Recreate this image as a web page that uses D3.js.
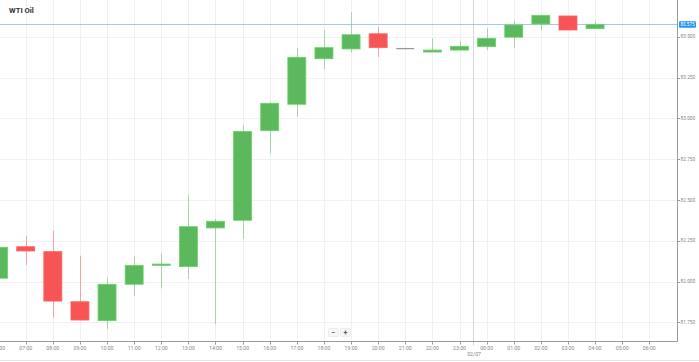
<!DOCTYPE html>
<html lang="en">
<head>
<meta charset="utf-8">
<title>WTI Oil</title>
<script src="https://cdn.jsdelivr.net/npm/d3@7"></script>
<style>
  html, body { margin: 0; padding: 0; background: #fff; }
  svg { display: block; font-family: Roboto, "Open Sans", sans-serif; }
</style>
</head>
<body>
<div id="chart"></div>
<script>
  // hourly candles, 06:00 on 02/06 through 04:00 on 02/07
  const hours = ["06:00","07:00","08:00","09:00","10:00","11:00","12:00","13:00","14:00","15:00","16:00","17:00",
                 "18:00","19:00","20:00","21:00","22:00","23:00","00:00","01:00","02:00","03:00","04:00"];
  const openVals  = [82.020,82.213,82.183,81.876,81.760,81.983,82.100,82.091,82.328,82.375,82.924,83.086,
                     83.365,83.425,83.518,83.431,83.406,83.418,83.439,83.497,83.578,83.627,83.549];
  const highVals  = [82.215,82.279,82.311,82.158,82.023,82.152,82.173,82.528,82.383,82.959,83.102,83.429,
                     83.541,83.651,83.561,83.431,83.490,83.472,83.551,83.598,83.631,83.627,83.594];
  const lowVals   = [82.015,82.101,81.778,81.764,81.709,81.911,81.958,82.015,81.738,82.260,82.786,83.010,
                     83.302,83.404,83.377,83.431,83.406,83.418,83.418,83.433,83.541,83.541,83.549];
  const closeVals = [82.210,82.187,81.880,81.764,81.983,82.099,82.107,82.336,82.369,82.920,83.092,83.374,
                     83.433,83.512,83.433,83.431,83.418,83.441,83.490,83.572,83.631,83.541,83.575];
  const yTicks = [81.75, 82.0, 82.25, 82.5, 82.75, 83.0, 83.25, 83.5];
  const lastPrice = 83.575;
  const title = "WTI Oil";
  const dateLabel = "02/07";

  const width = 699, height = 362;
  const plotRight = 677, plotBottom = 341.5;

  const start = new Date(2020, 1, 6, 6, 0);
  const times = hours.map((h, i) => new Date(start.getTime() + i * 3600e3));
  const data = times.map((t, i) => ({
    t, o: openVals[i], h: highVals[i], l: lowVals[i], c: closeVals[i]
  }));

  const x = d3.scaleTime()
      .domain([start, new Date(2020, 1, 7, 6, 0)])
      .range([-1.4, 649.3]);
  const y = d3.scaleLinear()
      .domain([81.75, 83.5])
      .range([322.3, 36.7]);

  const tickTimes = d3.range(25).map(i => new Date(start.getTime() + i * 3600e3))
      .filter(t => x(t) <= plotRight);

  const svg = d3.select("#chart").append("svg")
      .attr("width", width).attr("height", height);

  svg.append("defs").append("clipPath").attr("id", "plot")
    .append("rect").attr("x", 0).attr("y", 0).attr("width", plotRight).attr("height", plotBottom);

  // grid
  const grid = svg.append("g").attr("stroke", "#f1f1f1").attr("stroke-width", 1);
  grid.selectAll("line.v").data(tickTimes).join("line")
      .attr("x1", d => Math.round(x(d)) + 0.5).attr("x2", d => Math.round(x(d)) + 0.5)
      .attr("y1", 0).attr("y2", plotBottom);
  grid.selectAll("line.h").data(yTicks).join("line")
      .attr("x1", 0).attr("x2", plotRight)
      .attr("y1", d => Math.round(y(d)) + 0.5).attr("y2", d => Math.round(y(d)) + 0.5);

  // day divider
  const midnight = new Date(2020, 1, 6, 23, 30);
  svg.append("line")
      .attr("x1", Math.round(x(midnight)) + 0.5).attr("x2", Math.round(x(midnight)) + 0.5)
      .attr("y1", 0).attr("y2", plotBottom + 4)
      .attr("stroke", "#d8d8d8");

  // last price line
  svg.append("line")
      .attr("x1", 0).attr("x2", plotRight)
      .attr("y1", y(lastPrice)).attr("y2", y(lastPrice))
      .attr("stroke", "#9cc9ee").attr("stroke-width", 1);

  // candles
  const green = "#5cb85c", red = "#f75555", gray = "#999";
  const colorOf = d => d.c > d.o ? green : d.c < d.o ? red : gray;
  const bodyW = 18;
  const candles = svg.append("g").attr("clip-path", "url(#plot)")
    .selectAll("g").data(data).join("g");

  candles.filter(d => d.h > d.l).append("line")
      .attr("x1", d => Math.round(x(d.t)) + 0.5).attr("x2", d => Math.round(x(d.t)) + 0.5)
      .attr("y1", d => y(d.h)).attr("y2", d => y(d.l))
      .attr("stroke", colorOf).attr("stroke-opacity", 0.5);

  candles.append("rect")
      .attr("x", d => x(d.t) - bodyW / 2)
      .attr("width", bodyW)
      .attr("y", d => y(Math.max(d.o, d.c)))
      .attr("height", d => Math.max(1.3, Math.abs(y(d.o) - y(d.c))))
      .attr("fill", colorOf)
      .attr("stroke", d => d.c === d.o ? "none" : d3.color(colorOf(d)).brighter(0.4))
      .attr("stroke-width", 0.8);

  // axes
  const axisColor = "#999";
  svg.append("line")
      .attr("x1", plotRight + 0.5).attr("x2", plotRight + 0.5)
      .attr("y1", 0).attr("y2", plotBottom)
      .attr("stroke", axisColor);
  svg.append("line")
      .attr("x1", 0).attr("x2", plotRight + 0.5)
      .attr("y1", plotBottom).attr("y2", plotBottom)
      .attr("stroke", axisColor);

  const yAxis = svg.append("g");
  yAxis.selectAll("line").data(yTicks).join("line")
      .attr("x1", plotRight).attr("x2", plotRight + 3)
      .attr("y1", d => Math.round(y(d)) + 0.5).attr("y2", d => Math.round(y(d)) + 0.5)
      .attr("stroke", axisColor);
  yAxis.selectAll("text").data(yTicks).join("text")
      .attr("x", plotRight + 3.5).attr("y", d => y(d)).attr("dy", "0.35em")
      .attr("font-size", 4.8).attr("fill", "#888")
      .text(d => d3.format(".3f")(d));

  const xAxis = svg.append("g");
  xAxis.selectAll("line").data(tickTimes).join("line")
      .attr("x1", d => Math.round(x(d)) + 0.5).attr("x2", d => Math.round(x(d)) + 0.5)
      .attr("y1", plotBottom).attr("y2", plotBottom + 3)
      .attr("stroke", axisColor);
  xAxis.selectAll("text").data(tickTimes).join("text")
      .attr("x", d => x(d)).attr("y", 348.5).attr("dy", "0.35em")
      .attr("text-anchor", "middle")
      .attr("font-size", 5.2).attr("fill", "#888")
      .text(d => d3.timeFormat("%H:%M")(d));
  svg.append("text")
      .attr("x", x(midnight) + 1).attr("y", 354.5).attr("dy", "0.35em")
      .attr("text-anchor", "middle")
      .attr("font-size", 5.2).attr("fill", "#888")
      .text(dateLabel);

  // last price tag
  const tag = svg.append("g").attr("transform", `translate(679,${y(lastPrice)})`);
  tag.append("rect").attr("x", 0).attr("y", -3.2).attr("width", 17).attr("height", 6.4)
      .attr("rx", 1).attr("fill", "#2196f3");
  tag.append("text").attr("x", 8.5).attr("dy", "0.35em").attr("text-anchor", "middle")
      .attr("font-size", 4.6).attr("fill", "#fff").text(d3.format(".3f")(lastPrice));

  // title
  svg.append("text")
      .attr("x", 9).attr("y", 13.3)
      .attr("font-size", 7.6).attr("font-weight", "bold").attr("fill", "#333")
      .text(title);

  // zoom buttons
  const btns = svg.append("g").attr("transform", "translate(328.5,328.5)");
  ["\u2212", "+"].forEach((s, i) => {
    const b = btns.append("g").attr("transform", `translate(${i * 12},0)`);
    b.append("rect").attr("width", 10).attr("height", 8).attr("rx", 1)
        .attr("fill", "#f6f6f6").attr("stroke", "#e2e2e2").attr("stroke-width", 0.6);
    b.append("text").attr("x", 5).attr("y", 4).attr("dy", "0.35em")
        .attr("text-anchor", "middle").attr("font-size", 7).attr("font-weight", "bold")
        .attr("fill", "#555").text(s);
  });

  // bottom border
  svg.append("line")
      .attr("x1", 0).attr("x2", width).attr("y1", 360.5).attr("y2", 360.5)
      .attr("stroke", "#e6e6e6");
</script>
</body>
</html>
